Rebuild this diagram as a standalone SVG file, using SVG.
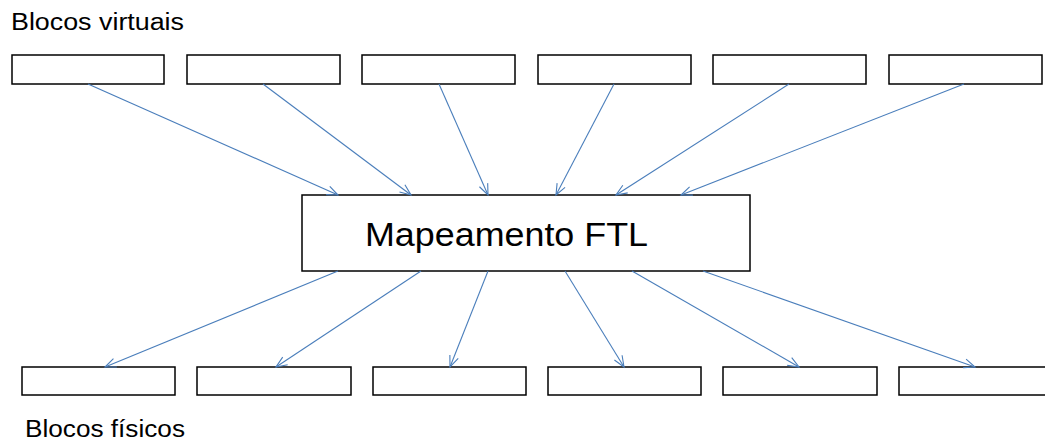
<svg xmlns="http://www.w3.org/2000/svg" width="1045" height="441" viewBox="0 0 1045 441">
  <style>
    .blk { fill: #ffffff; stroke: #000000; stroke-width: 1.5; }
    .lbl { font-family: "Liberation Sans", Arial, sans-serif; fill: #000000; }
    .conn { stroke: #4a7ebb; stroke-width: 1.1; fill: none; marker-end: url(#arrow); }
  </style>
  <defs>
    <marker id="arrow" markerUnits="userSpaceOnUse" viewBox="-12 -6 14 12" refX="0" refY="0" markerWidth="14" markerHeight="12" orient="auto">
      <path d="M-11,-4.5 L0,0 L-11,4.5" fill="none" stroke="#4a7ebb" stroke-width="1.1"/>
    </marker>
  </defs>

  <rect width="1045" height="441" fill="#ffffff"/>

  <text class="lbl" x="11" y="30" font-size="23" textLength="173" lengthAdjust="spacingAndGlyphs">Blocos virtuais</text>
  <text class="lbl" x="25" y="437" font-size="23" textLength="160" lengthAdjust="spacingAndGlyphs">Blocos físicos</text>

  <!-- virtual blocks -->
  <g id="v1"><rect class="blk" x="12" y="55" width="152" height="29"/></g>
  <g id="v2"><rect class="blk" x="187" y="55" width="153" height="29"/></g>
  <g id="v3"><rect class="blk" x="362" y="55" width="153" height="29"/></g>
  <g id="v4"><rect class="blk" x="538" y="55" width="153" height="29"/></g>
  <g id="v5"><rect class="blk" x="713" y="55" width="153" height="29"/></g>
  <g id="v6"><rect class="blk" x="889" y="55" width="153" height="29"/></g>

  <!-- FTL mapping -->
  <g id="ftl">
    <rect class="blk" x="302" y="195" width="448" height="76"/>
    <text class="lbl" x="365" y="246" font-size="34" textLength="283" lengthAdjust="spacingAndGlyphs">Mapeamento FTL</text>
  </g>

  <!-- physical blocks -->
  <g id="p1"><rect class="blk" x="22" y="367" width="153" height="28"/></g>
  <g id="p2"><rect class="blk" x="197" y="367" width="154" height="28"/></g>
  <g id="p3"><rect class="blk" x="373" y="367" width="153" height="28"/></g>
  <g id="p4"><rect class="blk" x="548" y="367" width="153" height="28"/></g>
  <g id="p5"><rect class="blk" x="723" y="367" width="154" height="28"/></g>
  <g id="p6"><rect class="blk" x="899" y="367" width="156" height="28"/></g>

  <g id="connectors">
    <line class="conn" x1="88" y1="84" x2="338" y2="195"/>
    <line class="conn" x1="263" y1="84" x2="411" y2="195"/>
    <line class="conn" x1="439" y1="84" x2="488" y2="195"/>
    <line class="conn" x1="614" y1="84" x2="556" y2="195"/>
    <line class="conn" x1="789" y1="84" x2="616" y2="195"/>
    <line class="conn" x1="964" y1="84" x2="681" y2="195"/>

    <line class="conn" x1="338" y1="271" x2="105" y2="367"/>
    <line class="conn" x1="421" y1="271" x2="276" y2="367"/>
    <line class="conn" x1="488" y1="271" x2="450" y2="367"/>
    <line class="conn" x1="565" y1="271" x2="624" y2="367"/>
    <line class="conn" x1="632" y1="271" x2="799" y2="367"/>
    <line class="conn" x1="703" y1="271" x2="975" y2="367"/>
  </g>
</svg>
